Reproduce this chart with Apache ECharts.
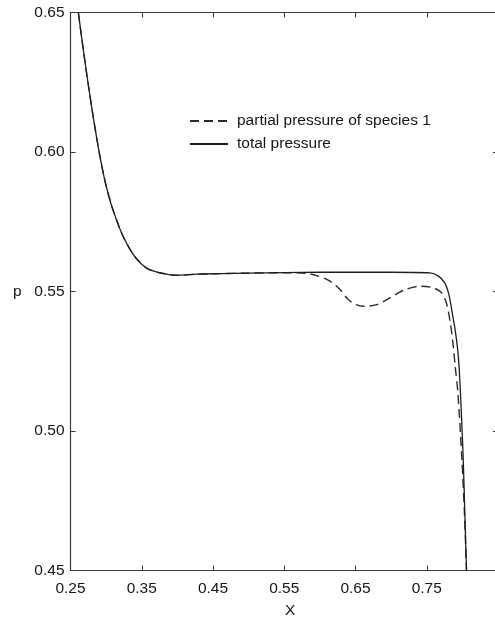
<!DOCTYPE html>
<html>
<head>
<meta charset="utf-8">
<script src="https://cdn.jsdelivr.net/npm/echarts@6/dist/echarts.min.js"></script>
<style>html,body{margin:0;padding:0;background:#fff;}#c{width:495px;height:619px;}</style>
</head>
<body>
<div id="c"></div>
<script>
// Tick labels
const xTicks = [0.25, 0.35, 0.45, 0.55, 0.65, 0.75];
const yTicks = [0.45, 0.50, 0.55, 0.60, 0.65];

// total pressure (solid)
const totalX = [0.261, 0.268, 0.2755, 0.283, 0.2905, 0.2985, 0.307, 0.3148, 0.3225, 0.3289, 0.337, 0.3452, 0.3525, 0.3592, 0.3756, 0.399, 0.427, 0.46, 0.50, 0.55, 0.60, 0.65, 0.70, 0.7545, 0.766, 0.775, 0.781, 0.786, 0.790, 0.7935, 0.7956, 0.7985, 0.8012, 0.8035, 0.8058];
const totalP = [0.65, 0.6366, 0.6232, 0.6108, 0.5996, 0.5895, 0.5813, 0.5755, 0.5705, 0.5672, 0.5637, 0.5610, 0.5592, 0.5580, 0.5567, 0.5558, 0.5562, 0.5564, 0.5566, 0.5568, 0.5569, 0.5569, 0.5569, 0.5567, 0.5556, 0.5532, 0.549, 0.542, 0.536, 0.529, 0.522, 0.507, 0.4897, 0.470, 0.45];

// partial pressure of species 1 (dashed)
const partialX = [0.261, 0.268, 0.2755, 0.283, 0.2905, 0.2985, 0.307, 0.3148, 0.3225, 0.3289, 0.337, 0.3452, 0.3525, 0.3592, 0.3756, 0.399, 0.427, 0.46, 0.50, 0.55, 0.58, 0.5955, 0.6142, 0.6283, 0.6399, 0.651, 0.661, 0.6798, 0.6984, 0.7171, 0.7405, 0.7592, 0.771, 0.778, 0.7835, 0.7867, 0.790, 0.7937, 0.7994, 0.803, 0.8058];
const partialP = [0.65, 0.6366, 0.6232, 0.6108, 0.5996, 0.5895, 0.5813, 0.5755, 0.5705, 0.5672, 0.5637, 0.5610, 0.5592, 0.5580, 0.5567, 0.5558, 0.5562, 0.5564, 0.5566, 0.5567, 0.5565, 0.5557, 0.5537, 0.5507, 0.5471, 0.5453, 0.5447, 0.5453, 0.5477, 0.5504, 0.5519, 0.5513, 0.5495, 0.5455, 0.538, 0.5315, 0.523, 0.5137, 0.4897, 0.470, 0.45];

const seriesNames = ['partial pressure of species 1', 'total pressure'];

const zip = (xs, ys) => xs.map((x, i) => [x, ys[i]]);
const font = 'Liberation Sans, Arial, Helvetica, sans-serif';
const ink = '#151515';

const chart = echarts.init(document.getElementById('c'), null, {renderer: 'canvas'});
const axisCommon = {
  axisLine: {show: true, lineStyle: {color: '#3a3a3a', width: 1.2}},
  axisTick: {show: true, inside: true, length: 5, lineStyle: {color: '#3a3a3a', width: 1}},
  splitLine: {show: false}
};
chart.setOption({
  animation: false,
  backgroundColor: '#fff',
  grid: {left: 70.5, width: 427.5, top: 12.5, height: 558, outerBoundsMode: 'none', containLabel: false},
  legend: {
    orient: 'vertical', left: 189, top: 113, padding: 0,
    itemWidth: 38, itemHeight: 14, itemGap: 7,
    itemStyle: {opacity: 0},
    textStyle: {fontFamily: font, fontSize: 15.5, color: ink, padding: [0, 0, 0, 4]},
    data: seriesNames
  },
  xAxis: [
    Object.assign({
      type: 'value', position: 'bottom', min: xTicks[0], max: 0.85, interval: 0.1,
      name: 'X', nameLocation: 'middle', nameGap: 32,
      nameTextStyle: {fontFamily: font, fontSize: 15.5, color: ink, padding: [0, 0, 0, 12]},
      axisLabel: {show: true, margin: 10, showMaxLabel: false, fontFamily: font, fontSize: 15.5, color: ink,
        formatter: v => v.toFixed(2)}
    }, axisCommon),
    Object.assign({
      type: 'value', position: 'top', min: xTicks[0], max: 0.85, interval: 0.1,
      axisLabel: {show: false}
    }, axisCommon)
  ],
  yAxis: [
    Object.assign({
      type: 'value', position: 'left', min: yTicks[0], max: yTicks[yTicks.length - 1], interval: 0.05,
      name: 'p', nameLocation: 'middle', nameRotate: 0, nameGap: 49,
      nameTextStyle: {fontFamily: font, fontSize: 15.5, color: ink},
      axisLabel: {show: true, margin: 6, fontFamily: font, fontSize: 15.5, color: ink,
        formatter: v => v.toFixed(2)}
    }, axisCommon),
    Object.assign({
      type: 'value', position: 'right', min: yTicks[0], max: yTicks[yTicks.length - 1], interval: 0.05,
      axisLabel: {show: false}
    }, axisCommon)
  ],
  series: [
    {
      name: seriesNames[0], type: 'line', data: zip(partialX, partialP),
      symbol: 'none', smooth: 0.3, clip: true,
      lineStyle: {color: '#2a2a2a', width: 1.4, type: [9, 5]},
      itemStyle: {color: '#2a2a2a'}
    },
    {
      name: seriesNames[1], type: 'line', data: zip(totalX, totalP),
      symbol: 'none', smooth: 0.3, clip: true,
      lineStyle: {color: '#1e1e1e', width: 1.3, type: 'solid'},
      itemStyle: {color: '#1e1e1e'}
    }
  ]
});
</script>
</body>
</html>
